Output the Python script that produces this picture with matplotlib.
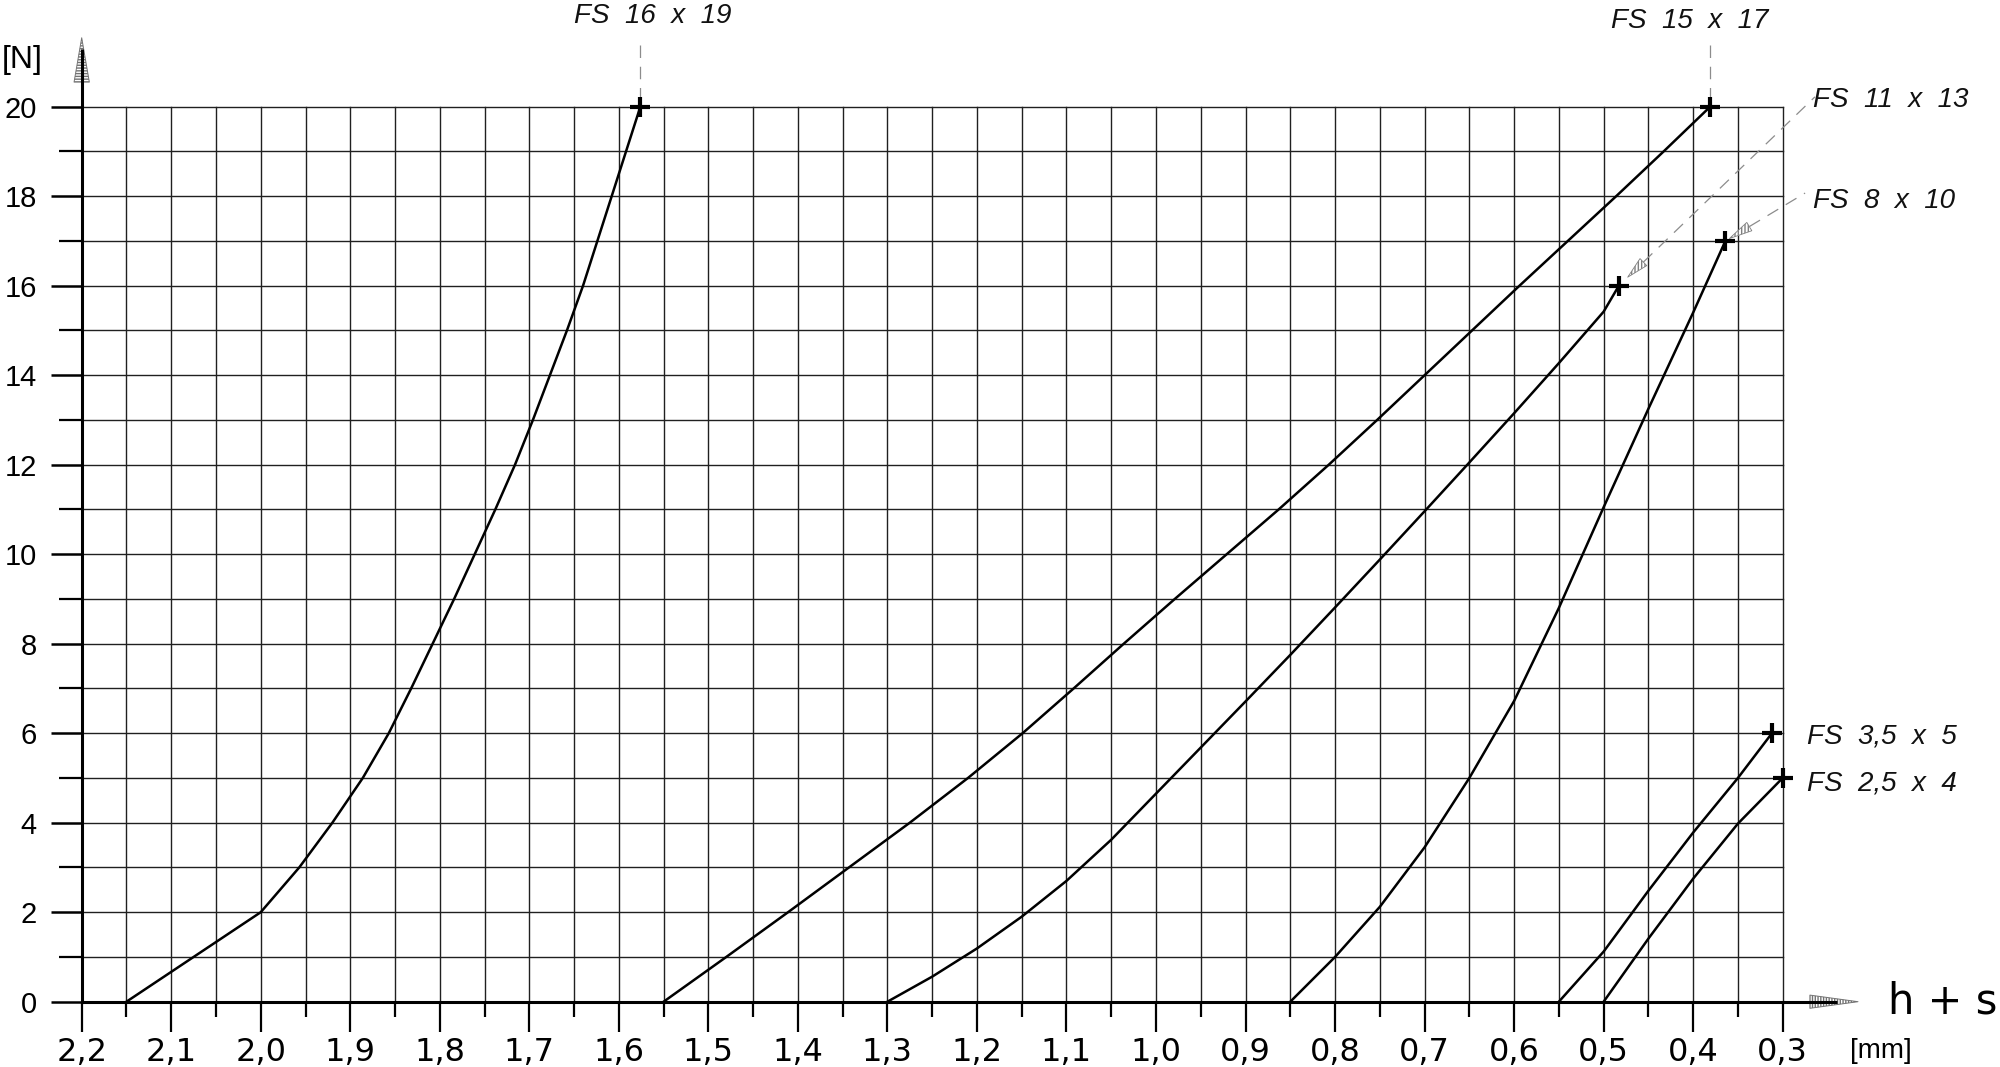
import numpy as np
import matplotlib
matplotlib.use('Agg')
import matplotlib.pyplot as plt
from matplotlib.ticker import FixedLocator

plt.rcParams['font.family'] = ['DejaVu Sans']
lib = ['Liberation Sans', 'DejaVu Sans']

# spring curves, force [N] against travel h + s [mm]
fs16_force = [0, 1, 2, 3, 4, 5, 6, 7, 8, 9, 10, 11, 12, 13, 14, 15, 16, 17, 18, 19, 20]
fs16_mm = [2.15, 2.075, 2.0, 1.957, 1.920, 1.886, 1.857, 1.832, 1.808, 1.784, 1.761,
           1.738, 1.716, 1.696, 1.677, 1.658, 1.640, 1.624, 1.608, 1.592, 1.576]

fs15_force = [0, 1, 2, 3, 4, 5, 6, 7, 8, 9, 10, 11, 12, 13, 14, 15, 16, 17, 18, 19, 20]
fs15_mm = [1.55, 1.480, 1.411, 1.343, 1.275, 1.210, 1.149, 1.092, 1.036, 0.979, 0.921,
           0.863, 0.807, 0.753, 0.700, 0.647, 0.594, 0.540, 0.486, 0.433, 0.381]

fs11_mm = [1.30, 1.25, 1.20, 1.15, 1.10, 1.05, 1.00, 0.95, 0.90, 0.85, 0.80, 0.75,
           0.70, 0.65, 0.60, 0.55, 0.50, 0.483]
fs11_force = [0, 0.56, 1.19, 1.90, 2.70, 3.62, 4.65, 5.68, 6.71, 7.75, 8.81, 9.88,
              10.96, 12.05, 13.15, 14.27, 15.42, 16]

fs8_mm = [0.85, 0.80, 0.75, 0.70, 0.65, 0.60, 0.55, 0.50, 0.45, 0.40, 0.364]
fs8_force = [0, 1.0, 2.12, 3.45, 5.0, 6.72, 8.8, 11.05, 13.25, 15.4, 17]

fs35_mm = [0.55, 0.50, 0.45, 0.40, 0.35, 0.312]
fs35_force = [0, 1.12, 2.48, 3.78, 5.0, 6]

fs25_mm = [0.50, 0.45, 0.40, 0.35, 0.30]
fs25_force = [0, 1.41, 2.75, 3.98, 5]

names = ['FS  16  x  19', 'FS  15  x  17', 'FS  11  x  13', 'FS  8  x  10',
         'FS  3,5  x  5', 'FS  2,5  x  4']
curves = [(fs16_mm, fs16_force), (fs15_mm, fs15_force), (fs11_mm, fs11_force),
          (fs8_mm, fs8_force), (fs35_mm, fs35_force), (fs25_mm, fs25_force)]

x_major = np.round(np.arange(0.3, 2.25, 0.1), 1)
x_minor = np.round(np.arange(0.35, 2.2, 0.1), 2)
y_major = list(range(0, 21, 2))
y_minor = list(range(1, 20, 2))

W, H = 2000, 1067
fig = plt.figure(figsize=(20, 10.67), dpi=100)
ax = fig.add_axes([81.7 / W, 1 - 1001.7 / H, 1701 / W, 895 / H])
ax.set_xlim(2.2, 0.3)
ax.set_ylim(0, 20)

ax.xaxis.set_major_locator(FixedLocator(x_major))
ax.xaxis.set_minor_locator(FixedLocator(x_minor))
ax.yaxis.set_major_locator(FixedLocator(y_major))
ax.yaxis.set_minor_locator(FixedLocator(y_minor))
ax.set_xticklabels(['{:.1f}'.format(v).replace('.', ',') for v in x_major])
ax.set_yticklabels([str(v) for v in y_major], family=lib)

ax.tick_params(axis='x', which='major', length=21.6, width=1.6, pad=4, labelsize=23)
ax.tick_params(axis='x', which='minor', length=10.8, width=1.6)
ax.tick_params(axis='y', which='major', length=22.3, width=1.8, pad=10, labelsize=21)
ax.tick_params(axis='y', which='minor', length=16.6, width=1.6)
ax.grid(which='both', color='#202020', lw=1.0, clip_on=False)

for s in ['top', 'right']:
    ax.spines[s].set_visible(False)
for s in ['left', 'bottom']:
    ax.spines[s].set_linewidth(2.2)

for xs, ys in curves:
    ax.plot(xs, ys, color='k', lw=1.8, zorder=3)
    ax.plot(xs[-1], ys[-1], marker='+', ms=14, mew=3, color='k', clip_on=False, zorder=4)

# axis arrows
ax.plot([0.3, 0.2394], [0, 0], color='k', lw=2.2, clip_on=False, solid_capstyle='butt', zorder=5)
ax.annotate('', xy=(0.2159, 0), xytext=(0.2696, 0),
            arrowprops=dict(arrowstyle='wedge,tail_width=9.5', mutation_scale=1, fc='white',
                            ec='0.45', hatch='||||||', lw=0.7, shrinkA=0, shrinkB=0),
            annotation_clip=False)
ax.plot([2.2, 2.2], [20, 21.3], color='k', lw=2.2, clip_on=False, solid_capstyle='butt', zorder=5)
ax.annotate('', xy=(2.2, 21.54), xytext=(2.2, 20.55),
            arrowprops=dict(arrowstyle='wedge,tail_width=11', mutation_scale=1, fc='white',
                            ec='0.45', hatch='------', lw=0.7, shrinkA=0, shrinkB=0),
            annotation_clip=False)

dash = (0, (10, 7))
lead = '0.55'

# straight-up leaders
for xs, ys in curves[:2]:
    ax.plot([xs[-1], xs[-1]], [20.15, 21.4], color=lead, lw=0.9, ls=dash, clip_on=False)

# slanted leaders with small arrow heads
def leader(p, t, f_tip, f_tail):
    p = np.array(p, float)
    t = np.array(t, float)
    tip = p + f_tip * (t - p)
    tail = p + f_tail * (t - p)
    ax.plot([tail[0], t[0]], [tail[1], t[1]], color=lead, lw=0.9, ls=dash, clip_on=False)
    ax.annotate('', xy=tip, xytext=tail,
                arrowprops=dict(arrowstyle='wedge,tail_width=7', mutation_scale=1, fc='white',
                                ec='0.5', hatch='|||||', lw=0.6, shrinkA=0, shrinkB=0),
                annotation_clip=False)

leader((fs11_mm[-1], fs11_force[-1]), (0.264, 20.22), 0.045, 0.125)
leader((fs8_mm[-1], fs8_force[-1]), (0.275, 18.07), 0.05, 0.3)

lab_kw = dict(fontsize=20, style='italic', va='baseline', color='#111111', family=lib)
ax.text(1.562, 21.87, names[0], ha='center', **lab_kw)
ax.text(0.4035, 21.76, names[1], ha='center', **lab_kw)
ax.text(0.266, 19.99, names[2], ha='left', **lab_kw)
ax.text(0.266, 17.74, names[3], ha='left', **lab_kw)
ax.text(0.2727, 5.78, names[4], ha='left', **lab_kw)
ax.text(0.2727, 4.73, names[5], ha='left', **lab_kw)

fig.text(2 / W, 1 - 68 / H, '[N]', fontsize=23, va='baseline', family=lib)
fig.text(1850 / W, 1 - 1058 / H, '[mm]', fontsize=20, va='baseline', family=lib)
fig.text(1888 / W, 1 - 1013 / H, 'h + s', fontsize=30, va='baseline')

fig.savefig('out.png', dpi=100)
